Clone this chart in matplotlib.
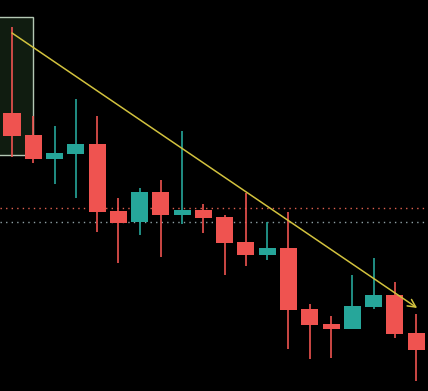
import numpy as np
import matplotlib.pyplot as plt
from matplotlib.patches import Rectangle

# candle values (price units = pixel height from bottom)
opens  = [278, 256, 232, 237, 247, 180, 169, 199, 176, 181, 174, 149, 136, 143, 82, 67, 62, 84, 96, 58]
highs  = [364, 275, 265, 292, 275, 193, 203, 211, 260, 187, 176, 198, 169, 179, 87, 75, 116, 133, 109, 77]
lows   = [234, 228, 207, 193, 159, 128, 156, 134, 167, 158, 116, 125, 131, 42, 32, 33, 62, 82, 53, 10]
closes = [255, 232, 238, 247, 179, 168, 199, 176, 181, 173, 148, 136, 143, 81, 66, 62, 85, 96, 57, 41]

# horizontal dotted levels
level_upper = 183
level_lower = 169

# trend arrow (start candle, start price, end candle, end price)
trend_start = (0, 358)
trend_end = (19.05, 83)

# highlighted zone around the first candle
zone_x = (-1.0, 0.99)
zone_y = (236, 374)

up_color = '#26a69a'
down_color = '#ef5350'

fig = plt.figure(figsize=(4.28, 3.91), dpi=100, facecolor='black')
ax = fig.add_axes([0, 0, 1, 1])
ax.set_facecolor('black')
ax.set_xlim(-0.564, 19.56)
ax.set_ylim(0, 391)
ax.axis('off')

# zone box
ax.add_patch(Rectangle((zone_x[0], zone_y[0]), zone_x[1] - zone_x[0], zone_y[1] - zone_y[0],
                       facecolor='#101c10', edgecolor='#b4c8b4', linewidth=1.0, zorder=0))

# dotted levels
ax.axhline(level_upper, color='#e0604f', linestyle=(0, (1, 3)), linewidth=1.0, zorder=1)
ax.axhline(level_lower, color='#8fa0a4', linestyle=(0, (1, 3)), linewidth=1.0, zorder=1)

x = np.arange(len(opens))
body_w = 0.8
for i in x:
    o, h, l, c = opens[i], highs[i], lows[i], closes[i]
    color = up_color if c >= o else down_color
    ax.vlines(i, l, h, color=color, linewidth=1.2, zorder=2)
    bottom = min(o, c)
    height = max(abs(c - o), 1.5)
    ax.add_patch(Rectangle((i - body_w / 2, bottom), body_w, height,
                           facecolor=color, edgecolor='none', zorder=3))

# trend arrow
ax.annotate('', xy=trend_end, xytext=trend_start,
            arrowprops=dict(arrowstyle='->', color='#d2c23e', linewidth=1.1,
                            mutation_scale=14, shrinkA=0, shrinkB=0),
            zorder=4)

fig.savefig('out.png', dpi=100, facecolor='black')
